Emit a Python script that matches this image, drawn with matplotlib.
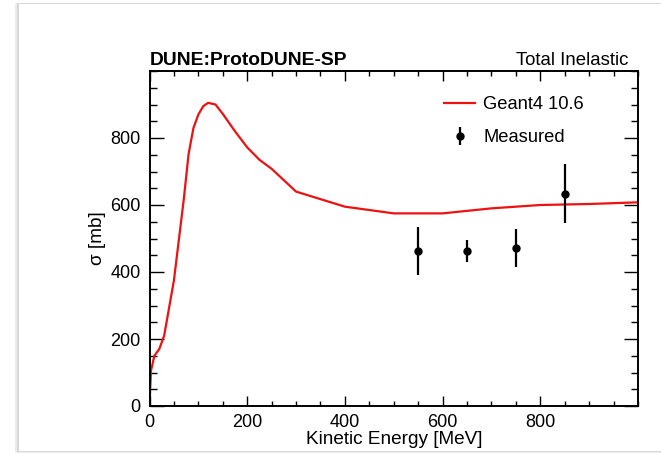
import matplotlib
matplotlib.use("Agg")
import matplotlib.pyplot as plt
from matplotlib.patches import Rectangle
from matplotlib.ticker import MultipleLocator

plt.rcParams['font.family'] = ['Liberation Sans', 'DejaVu Sans']

# Geant4 10.6 total inelastic cross section
g4_energy = [0, 3, 10, 20, 30, 50, 70, 80, 90, 100, 110, 120, 135, 150,
             175, 200, 225, 250, 300, 400, 500, 600, 700, 800, 900, 1000]
g4_sigma = [0, 105, 150, 170, 210, 375, 615, 752, 830, 870, 895, 905, 900, 872,
            820, 772, 735, 708, 640, 595, 575, 575, 590, 600, 603, 608]

# Measured points
meas_energy = [550, 650, 750, 850]
meas_sigma = [463, 463, 472, 634]
meas_err = [71, 34, 56, 88]

W, H = 661, 454
fig = plt.figure(figsize=(W / 100, H / 100), dpi=100)

# card background with soft edge
fig.patches.append(Rectangle((15 / W, 1 - 453 / H), 660 / W, 450 / H,
                             transform=fig.transFigure, facecolor='#ececec',
                             edgecolor='none', zorder=-4))
fig.patches.append(Rectangle((17 / W, 1 - 452 / H), 660 / W, 449 / H,
                             transform=fig.transFigure, facecolor='#d8d8d8',
                             edgecolor='none', zorder=-3))
fig.patches.append(Rectangle((19 / W, 1 - 451 / H), 660 / W, 447 / H,
                             transform=fig.transFigure, facecolor='white',
                             edgecolor='none', zorder=-2))

ax = fig.add_axes([149.5 / W, 1 - 406 / H, (638 - 149.5) / W, (406 - 71) / H])
ax.set_facecolor('white')

line, = ax.plot(g4_energy, g4_sigma, color='#ee1111', lw=1.6, label='Geant4 10.6')
eb = ax.errorbar(meas_energy, meas_sigma, yerr=meas_err, fmt='o', color='black',
                 ms=5, elinewidth=1.6, capsize=0, label='Measured')

ax.set_xlim(0, 1000)
ax.set_ylim(0, 1000)

ax.xaxis.set_major_locator(MultipleLocator(200))
ax.xaxis.set_minor_locator(MultipleLocator(50))
ax.yaxis.set_major_locator(MultipleLocator(200))
ax.yaxis.set_minor_locator(MultipleLocator(50))

ax.tick_params(axis='both', which='both', direction='in', top=True, right=True,
               colors='black', labelsize=13, width=1.0)
ax.tick_params(axis='x', which='major', length=7.2, pad=5.5)
ax.tick_params(axis='x', which='minor', length=3.6)
ax.tick_params(axis='y', which='major', length=10, pad=6.5)
ax.tick_params(axis='y', which='minor', length=5)
ax.set_yticks([0, 200, 400, 600, 800])
ax.set_xticks([0, 200, 400, 600, 800])

for s in ax.spines.values():
    s.set_linewidth(1.4)

ax.set_xlabel('Kinetic Energy [MeV]', fontsize=13.7, labelpad=0)
ax.set_ylabel('σ [mb]', fontsize=13.7, labelpad=3)

fig.text(149.5 / W, 1 - 65 / H, 'DUNE:ProtoDUNE-SP', fontsize=13.9,
         fontweight='bold', ha='left', va='baseline')
fig.text(628 / W, 1 - 65 / H, 'Total Inelastic', fontsize=13.4,
         ha='right', va='baseline')

ax.legend([line, eb], ['Geant4 10.6', 'Measured'], loc='upper left',
          bbox_to_anchor=(444 / W, 1 - 96 / H), bbox_transform=fig.transFigure,
          frameon=False, fontsize=13.2, handlelength=1.7, handletextpad=0.45,
          labelspacing=0.9, borderpad=0, borderaxespad=0)

fig.savefig('out.png', dpi=100)
